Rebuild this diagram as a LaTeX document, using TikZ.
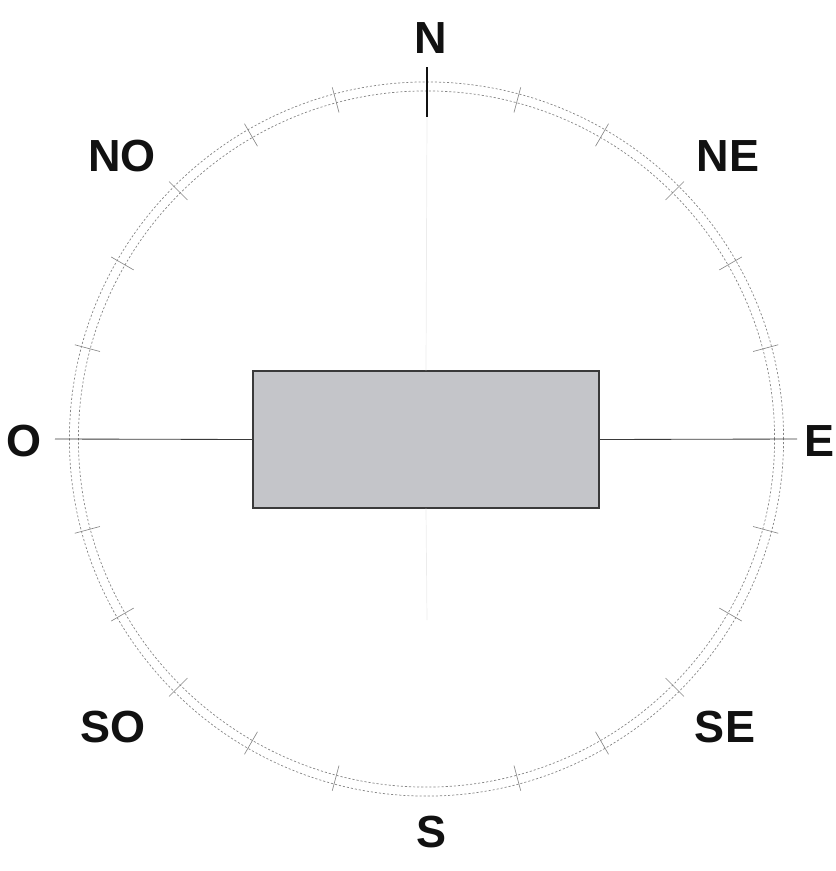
\documentclass[tikz,border=0pt]{standalone}
\usepackage{fontspec}
\setmainfont{Liberation Sans}
\usetikzlibrary{positioning, calc}
\definecolor{tinta}{HTML}{111111}
\definecolor{linea}{HTML}{3A3A3A}
\definecolor{relleno}{HTML}{C4C5C9}
\definecolor{gris}{HTML}{858585}
\definecolor{suave}{HTML}{ECECEC}
\tikzset{
  rumbo/.style={font=\fontsize{32}{36}\selectfont\bfseries, text=tinta, inner sep=0pt},
  planta/.style={rectangle, draw=linea, fill=relleno, line width=1pt,
                 minimum width=8.65cm, minimum height=3.425cm, inner sep=0pt},
  eje/.style={line width=0.6pt, color=linea},
  ejesuave/.style={line width=0.5pt, color=suave},
  aro/.style={line width=0.5pt, color=gris, dash pattern=on 1.5pt off 1.4pt},
  marca/.style={line width=0.45pt, color=gris}
}
\begin{document}
\begin{tikzpicture}[x=0.025cm, y=-0.025cm]
  \useasboundingbox (0,0) rectangle (836,871);
  \coordinate (c) at (426.5,439);
  % dial
  \draw [aro] (c) circle (8.925cm);
  \draw [aro] (c) circle (8.7cm);
  \foreach \a in {15,30,45,60,75,105,120,135,150,165,195,210,225,240,255,285,300,315,330,345}
    \draw [marca] ($(c)+(\a:8.45cm)$) -- ($(c)+(\a:9.1cm)$);
  % building and axes
  \node (caja) [planta] at (426,439.5) {};
  \coordinate (oeste) at (55,439);
  \coordinate (este) at (797,439);
  \coordinate (norte1) at (427,67);
  \coordinate (norte2) at (427,117);
  \coordinate (sur) at (427,620);
  \draw [eje] (oeste) -- (caja.west);
  \draw [eje] (caja.east) -- (este);
  \draw [line width=1.5pt, color=tinta] (norte1) -- (norte2);
  \draw [ejesuave] (norte2) -- (caja.north);
  \draw [ejesuave] (caja.south) -- (sur);
  % labels
  \node (n) [rumbo] at (431,38) {N};
  \node (ne) [rumbo] at (728,156) {NE};
  \node (e) [rumbo] at (820,441) {E};
  \node (se) [rumbo] at (725,727) {SE};
  \node (s) [rumbo] at (432,832) {S};
  \node (so) [rumbo] at (113,727) {SO};
  \node (o) [rumbo] at (24,441) {O};
  \node (no) [rumbo] at (122,156) {NO};
\end{tikzpicture}
\end{document}
